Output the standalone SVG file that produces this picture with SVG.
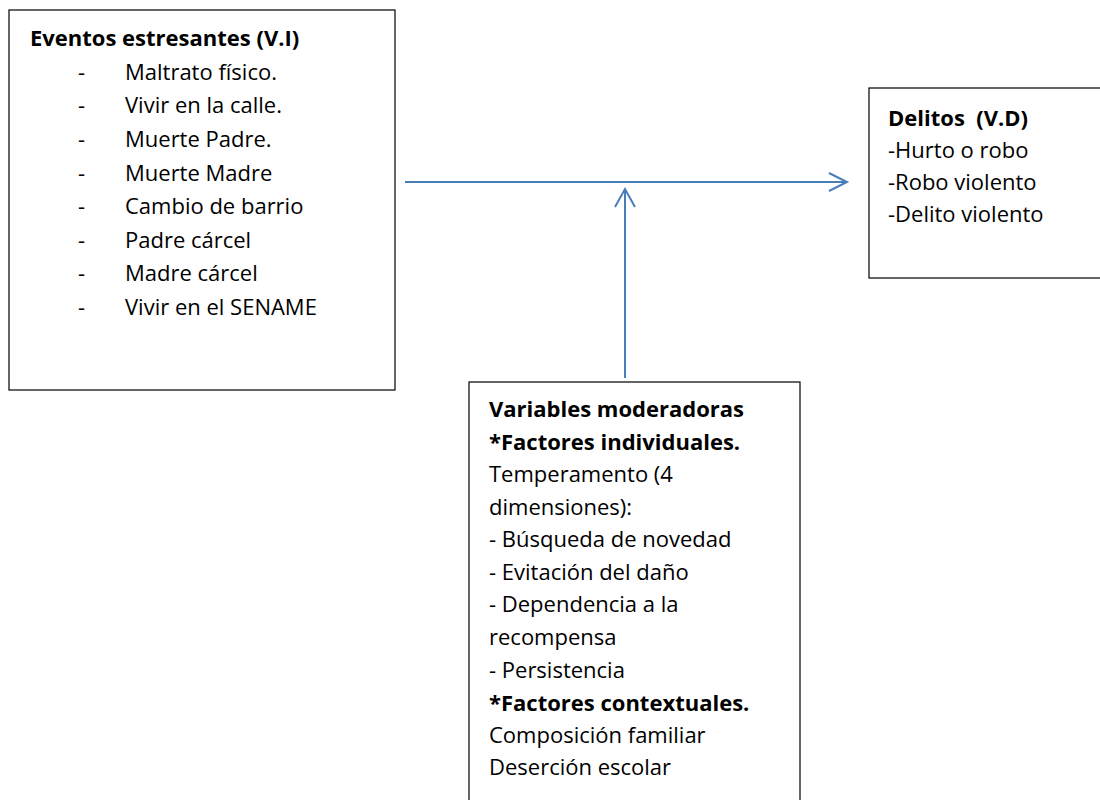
<svg xmlns="http://www.w3.org/2000/svg" width="1100" height="800" viewBox="0 0 1100 800">
  <style>
    .box { fill: #ffffff; stroke: #000000; stroke-width: 1.2; }
    .t { font-family: "Open Sans", Lato, "Liberation Sans", sans-serif; font-size: 22px; fill: #000000; white-space: pre; }
    .b { font-weight: bold; }
    .conn { stroke: #4A7EBB; stroke-width: 2; fill: none; }
  </style>
  <rect width="1100" height="800" fill="#ffffff"/>
  <g id="connectors">
    <line class="conn" x1="405" y1="182" x2="846" y2="182"/>
    <polyline class="conn" points="829,173 847,182 829,191"/>
    <line class="conn" x1="625" y1="378" x2="625" y2="190"/>
    <polyline class="conn" points="615,207 625,189 635,207"/>
  </g>
  <g id="node-eventos">
    <rect class="box" x="9" y="10" width="386" height="380"/>
    <text class="t b" x="30" y="46">Eventos estresantes (V.I)</text>
    <g class="t">
      <text x="78" y="80">-</text><text x="125" y="80">Maltrato físico.</text>
      <text x="78" y="113">-</text><text x="125" y="113">Vivir en la calle.</text>
      <text x="78" y="147">-</text><text x="125" y="147">Muerte Padre.</text>
      <text x="78" y="181">-</text><text x="125" y="181">Muerte Madre</text>
      <text x="78" y="214">-</text><text x="125" y="214">Cambio de barrio</text>
      <text x="78" y="248">-</text><text x="125" y="248">Padre cárcel</text>
      <text x="78" y="281">-</text><text x="125" y="281">Madre cárcel</text>
      <text x="78" y="315">-</text><text x="125" y="315">Vivir en el SENAME</text>
    </g>
  </g>
  <g id="node-delitos">
    <rect class="box" x="869" y="88" width="240" height="190"/>
    <text class="t b" x="888" y="126">Delitos  (V.D)</text>
    <text class="t" x="888" y="158">-Hurto o robo</text>
    <text class="t" x="888" y="190">-Robo violento</text>
    <text class="t" x="888" y="222">-Delito violento</text>
  </g>
  <g id="node-moderadoras">
    <rect class="box" x="469" y="382" width="331" height="430"/>
    <text class="t b" x="489" y="417">Variables moderadoras</text>
    <text class="t b" x="489" y="450">*Factores individuales.</text>
    <text class="t" x="489" y="482">Temperamento (4</text>
    <text class="t" x="489" y="515">dimensiones):</text>
    <text class="t" x="489" y="547">- Búsqueda de novedad</text>
    <text class="t" x="489" y="580">- Evitación del daño</text>
    <text class="t" x="489" y="612">- Dependencia a la</text>
    <text class="t" x="489" y="645">recompensa</text>
    <text class="t" x="489" y="678">- Persistencia</text>
    <text class="t b" x="489" y="711">*Factores contextuales.</text>
    <text class="t" x="489" y="743">Composición familiar</text>
    <text class="t" x="489" y="775">Deserción escolar</text>
  </g>
</svg>
